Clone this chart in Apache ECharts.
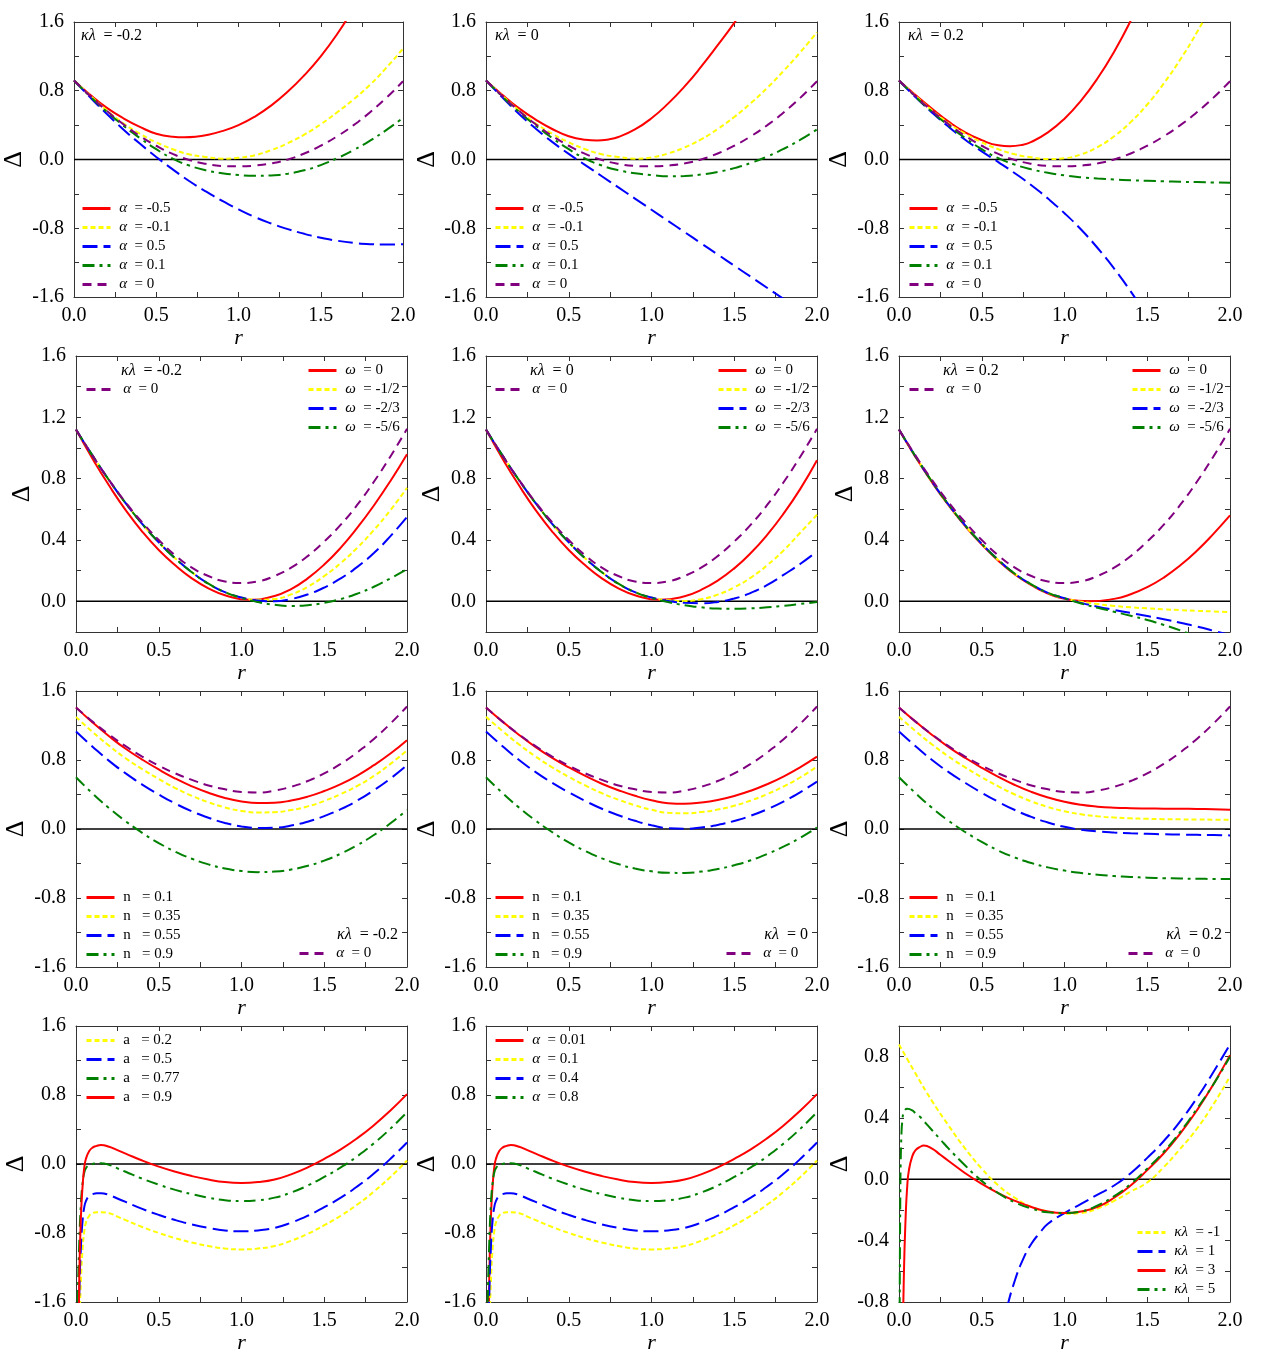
<!DOCTYPE html>
<html><head><meta charset="utf-8">
<script src="https://cdn.jsdelivr.net/npm/echarts@6/dist/echarts.min.js"></script>
<style>html,body{margin:0;padding:0;background:#fff}#c{width:1263px;height:1362px}</style>
</head><body><div id="c"></div>
<script>
// ---------- x grids ----------
const r21 = [0,0.1,0.2,0.3,0.4,0.5,0.6,0.7,0.8,0.9,1.0,1.1,1.2,1.3,1.4,1.5,1.6,1.7,1.8,1.9,2.0];
const rMin067 = [0,0.1,0.2,0.3,0.4,0.5,0.6,0.67,0.74,0.8,0.9,1.0,1.1,1.2,1.3,1.4,1.5,1.6,1.7,1.8,1.9,2.0];
const rMin105 = [0,0.1,0.2,0.3,0.4,0.5,0.6,0.7,0.8,0.9,1.05,1.2,1.3,1.4,1.5,1.6,1.7,1.8,1.9,2.0];
const rMin115 = [0,0.1,0.2,0.3,0.4,0.5,0.6,0.7,0.8,0.9,1.0,1.15,1.3,1.4,1.5,1.6,1.7,1.8,1.9,2.0];
const rFine = [0.01,0.02,0.03,0.04,0.05,0.06,0.08,0.1,0.125,0.15,0.2,0.25,0.3,0.4,0.5,0.6,0.7,0.8,0.9,1.0,1.1,1.2,1.3,1.4,1.5,1.6,1.7,1.8,1.9,2.0];
const rBlueKL1 = [0.6,0.65,0.7,0.75,0.8,0.85,0.9,1.0,1.1,1.2,1.3,1.4,1.5,1.6,1.7,1.8,1.9,2.0];
const rGreenKL5 = [0.002,0.005,0.008,0.01,0.015,0.02,0.03,0.05,0.08,0.1,0.125,0.15,0.2,0.25,0.3,0.4,0.5,0.6,0.7,0.8,0.9,1.0,1.1,1.2,1.3,1.4,1.5,1.6,1.7,1.8,1.9,2.0];

// ---------- legend / label texts ----------
const klPanel = ['-0.2','0','0.2'];
const alphaVals = ['-0.5','-0.1','0.5','0.1','0'];
const omegaVals = ['0','-1/2','-2/3','-5/6'];
const nVals = ['0.1','0.35','0.55','0.9'];
const aVals = ['0.2','0.5','0.77','0.9'];
const alphaVals2 = ['0.01','0.1','0.4','0.8'];
const klVals = ['-1','1','3','5'];

// ---------- row 1 : alpha family ----------
const p1_red    = [0.92,0.75,0.6,0.48,0.38,0.30,0.266,0.26,0.266,0.282,0.33,0.40,0.5,0.63,0.79,0.98,1.2,1.46,1.76];   // on rMin067
const p1_yellow = [0.92,0.74,0.57,0.42,0.30,0.20,0.12,0.06,0.03,0.01,0.02,0.05,0.11,0.19,0.29,0.41,0.55,0.70,0.87,1.07,1.29];
const p1_blue   = [0.92,0.72,0.53,0.35,0.185,0.03,-0.115,-0.25,-0.37,-0.48,-0.58,-0.67,-0.745,-0.81,-0.865,-0.91,-0.945,-0.97,-0.985,-0.99,-0.985];
const p1_green  = [0.92,0.73,0.555,0.395,0.25,0.12,0.01,-0.07,-0.125,-0.16,-0.18,-0.19,-0.185,-0.165,-0.125,-0.065,0.015,0.11,0.22,0.345,0.485];
const p1_purple = [0.92,0.735,0.565,0.41,0.275,0.16,0.065,-0.005,-0.05,-0.075,-0.08,-0.07,-0.045,0.0,0.07,0.16,0.27,0.40,0.55,0.72,0.91];

const p2_red    = [0.92,0.75,0.595,0.465,0.355,0.27,0.23,0.222,0.234,0.262,0.35,0.48,0.65,0.85,1.08,1.33,1.59,1.88];  // on rMin067
const p2_yellow = [0.92,0.74,0.57,0.42,0.30,0.20,0.12,0.06,0.03,0.01,0.025,0.07,0.14,0.235,0.355,0.495,0.655,0.835,1.035,1.25,1.48];
const p2_blue   = [0.92,0.72,0.53,0.36,0.205,0.065,-0.065,-0.195,-0.325,-0.455,-0.585,-0.715,-0.845,-0.975,-1.105,-1.235,-1.365,-1.495,-1.625];
const p2_green  = [0.92,0.73,0.555,0.395,0.25,0.12,0.01,-0.07,-0.125,-0.16,-0.18,-0.196,-0.192,-0.175,-0.145,-0.1,-0.04,0.035,0.125,0.23,0.35];
const p2_purple = [0.92,0.735,0.565,0.41,0.275,0.16,0.065,-0.005,-0.05,-0.075,-0.08,-0.07,-0.045,0.0,0.07,0.16,0.27,0.40,0.55,0.72,0.91];

const p3_red    = [0.92,0.75,0.59,0.44,0.315,0.225,0.165,0.155,0.169,0.205,0.315,0.475,0.685,0.945,1.255,1.615];      // on rMin067
const p3_yellow = [0.92,0.74,0.57,0.42,0.30,0.20,0.12,0.06,0.025,0.005,0.015,0.06,0.145,0.27,0.435,0.64,0.885,1.165,1.48,1.83];
const p3_blue   = [0.92,0.725,0.545,0.38,0.23,0.095,-0.03,-0.16,-0.3,-0.455,-0.625,-0.815,-1.03,-1.27,-1.535,-1.83];
const p3_green  = [0.92,0.73,0.555,0.395,0.25,0.12,0.015,-0.06,-0.115,-0.155,-0.185,-0.207,-0.222,-0.233,-0.241,-0.248,-0.254,-0.259,-0.263,-0.267,-0.27];
const p3_purple = [0.92,0.735,0.565,0.41,0.275,0.16,0.065,-0.005,-0.05,-0.075,-0.08,-0.07,-0.045,0.0,0.07,0.16,0.27,0.40,0.55,0.72,0.91];

// ---------- row 2 : omega family ----------
const p4_purple = [1.12,0.95,0.79,0.645,0.515,0.4,0.3,0.22,0.165,0.13,0.12,0.13,0.165,0.22,0.295,0.39,0.5,0.63,0.78,0.945,1.125];
const p4_red    = [1.12,0.93,0.755,0.595,0.455,0.335,0.235,0.15,0.085,0.04,0.01,0.035,0.08,0.15,0.24,0.35,0.48,0.625,0.785,0.96];   // on rMin105
const p4_yellow = [1.12,0.95,0.79,0.64,0.505,0.385,0.28,0.19,0.115,0.06,0.025,0.01,0.015,0.045,0.095,0.165,0.25,0.35,0.465,0.595,0.74];
const p4_blue   = [1.12,0.95,0.79,0.64,0.505,0.385,0.28,0.19,0.115,0.06,0.025,0.005,0.0,0.015,0.045,0.09,0.15,0.225,0.315,0.425,0.55];
const p4_green  = [1.12,0.95,0.79,0.64,0.505,0.385,0.28,0.19,0.115,0.06,0.022,-0.005,-0.022,-0.03,-0.025,-0.01,0.015,0.05,0.095,0.15,0.21];

const p5_purple = [1.12,0.95,0.79,0.645,0.515,0.4,0.3,0.22,0.165,0.13,0.12,0.13,0.165,0.22,0.295,0.39,0.5,0.63,0.78,0.945,1.125];
const p5_red    = [1.12,0.93,0.755,0.595,0.455,0.335,0.235,0.15,0.085,0.04,0.01,0.033,0.075,0.135,0.215,0.315,0.435,0.575,0.735,0.92];  // on rMin105
const p5_yellow = [1.12,0.95,0.79,0.64,0.505,0.385,0.28,0.19,0.115,0.06,0.025,0.007,0.002,0.014,0.044,0.091,0.155,0.236,0.334,0.449,0.565];
const p5_blue   = [1.12,0.95,0.79,0.64,0.505,0.385,0.28,0.19,0.115,0.06,0.025,0.003,-0.01,-0.013,-0.004,0.018,0.055,0.107,0.174,0.245,0.325];
const p5_green  = [1.12,0.95,0.79,0.64,0.505,0.385,0.28,0.19,0.115,0.06,0.022,-0.005,-0.025,-0.039,-0.047,-0.049,-0.046,-0.039,-0.029,-0.017,-0.004];

const p6_purple = [1.12,0.95,0.79,0.645,0.515,0.4,0.3,0.22,0.165,0.13,0.12,0.13,0.165,0.22,0.295,0.39,0.5,0.63,0.78,0.945,1.125];
const p6_red    = [1.12,0.94,0.775,0.625,0.49,0.37,0.265,0.175,0.105,0.05,0.016,0.0,0.016,0.046,0.092,0.155,0.235,0.33,0.44,0.56];   // on rMin115
const p6_yellow = [1.12,0.945,0.78,0.63,0.495,0.375,0.27,0.18,0.11,0.055,0.02,-0.002,-0.018,-0.03,-0.039,-0.046,-0.052,-0.057,-0.062,-0.066,-0.07];
const p6_blue   = [1.12,0.945,0.78,0.63,0.495,0.375,0.27,0.18,0.11,0.055,0.02,-0.01,-0.035,-0.056,-0.076,-0.096,-0.117,-0.14,-0.165,-0.192,-0.22];
const p6_green  = [1.12,0.945,0.78,0.63,0.495,0.375,0.27,0.18,0.11,0.055,0.02,-0.014,-0.042,-0.068,-0.094,-0.122,-0.154,-0.19,-0.232,-0.28,-0.334];

// ---------- row 3 : n family ----------
const p7_purple = [1.41,1.245,1.095,0.96,0.84,0.735,0.645,0.57,0.505,0.46,0.43,0.423,0.445,0.49,0.556,0.645,0.756,0.889,1.044,1.222,1.42];
const p7_red    = [1.41,1.235,1.075,0.93,0.805,0.69,0.585,0.495,0.42,0.36,0.32,0.302,0.305,0.33,0.375,0.44,0.52,0.62,0.74,0.875,1.03];
const p7_yellow = [1.3,1.125,0.965,0.82,0.695,0.58,0.475,0.385,0.31,0.25,0.21,0.192,0.195,0.22,0.262,0.325,0.405,0.5,0.615,0.755,0.91];
const p7_blue   = [1.13,0.955,0.79,0.645,0.515,0.4,0.295,0.205,0.13,0.07,0.03,0.012,0.015,0.04,0.085,0.15,0.23,0.33,0.45,0.585,0.74];
const p7_green  = [0.6,0.412,0.242,0.09,-0.045,-0.163,-0.263,-0.345,-0.41,-0.458,-0.487,-0.5,-0.494,-0.47,-0.427,-0.366,-0.286,-0.187,-0.07,0.066,0.22];

const p8_purple = [1.41,1.245,1.095,0.96,0.84,0.735,0.645,0.57,0.505,0.46,0.43,0.423,0.445,0.49,0.556,0.645,0.756,0.889,1.044,1.222,1.42];
const p8_red    = [1.41,1.245,1.09,0.95,0.825,0.715,0.615,0.525,0.45,0.385,0.333,0.298,0.292,0.307,0.337,0.383,0.444,0.52,0.611,0.718,0.839];
const p8_yellow = [1.3,1.135,0.98,0.84,0.715,0.605,0.505,0.415,0.34,0.275,0.223,0.188,0.182,0.196,0.225,0.27,0.33,0.405,0.495,0.6,0.725];
const p8_blue   = [1.13,0.96,0.8,0.66,0.535,0.425,0.325,0.235,0.16,0.095,0.043,0.008,0.002,0.017,0.047,0.093,0.154,0.23,0.321,0.428,0.549];
const p8_green  = [0.6,0.416,0.248,0.097,-0.037,-0.155,-0.256,-0.34,-0.407,-0.458,-0.491,-0.507,-0.509,-0.494,-0.464,-0.42,-0.362,-0.289,-0.202,-0.1,0.017];

const p9_purple = [1.41,1.245,1.095,0.96,0.84,0.735,0.645,0.57,0.505,0.46,0.43,0.423,0.445,0.49,0.556,0.645,0.756,0.889,1.044,1.222,1.42];
const p9_red    = [1.41,1.245,1.09,0.95,0.825,0.71,0.605,0.51,0.43,0.365,0.315,0.28,0.259,0.247,0.241,0.238,0.236,0.235,0.233,0.229,0.223];
const p9_yellow = [1.3,1.135,0.98,0.84,0.715,0.6,0.495,0.4,0.32,0.255,0.205,0.17,0.147,0.133,0.124,0.118,0.114,0.112,0.11,0.108,0.106];
const p9_blue   = [1.13,0.96,0.8,0.66,0.535,0.42,0.315,0.22,0.14,0.075,0.025,-0.008,-0.028,-0.041,-0.05,-0.056,-0.061,-0.065,-0.068,-0.071,-0.074];
const p9_green  = [0.6,0.415,0.245,0.095,-0.035,-0.15,-0.25,-0.33,-0.395,-0.445,-0.482,-0.51,-0.53,-0.545,-0.556,-0.564,-0.57,-0.574,-0.577,-0.579,-0.58];

// ---------- row 4 ----------
const p10_red    = [-3.0,-1.3,-0.6,-0.25,-0.04,0.06,0.15,0.19,0.21,0.22,0.2,0.16,0.12,0.04,-0.03,-0.09,-0.14,-0.18,-0.21,-0.22,-0.21,-0.18,-0.12,-0.04,0.06,0.17,0.3,0.45,0.62,0.81];
const p10_yellow = [-3.5,-2.0,-1.35,-0.98,-0.78,-0.68,-0.6,-0.57,-0.56,-0.56,-0.57,-0.61,-0.65,-0.73,-0.8,-0.86,-0.91,-0.95,-0.98,-0.99,-0.98,-0.95,-0.89,-0.81,-0.71,-0.6,-0.47,-0.32,-0.15,0.04];
const p10_blue   = [-2.5,-1.5,-0.95,-0.65,-0.5,-0.43,-0.37,-0.35,-0.34,-0.34,-0.36,-0.4,-0.44,-0.52,-0.59,-0.65,-0.7,-0.74,-0.77,-0.78,-0.77,-0.74,-0.68,-0.6,-0.5,-0.39,-0.26,-0.11,0.06,0.25];
const p10_green  = [-1.6,-0.9,-0.45,-0.22,-0.1,-0.05,-0.01,0.0,0.01,0.01,-0.01,-0.05,-0.09,-0.17,-0.24,-0.3,-0.35,-0.39,-0.42,-0.43,-0.42,-0.39,-0.33,-0.25,-0.15,-0.04,0.09,0.24,0.41,0.6];

const p11_red    = [-3.0,-1.3,-0.6,-0.25,-0.04,0.06,0.15,0.19,0.21,0.22,0.2,0.16,0.12,0.04,-0.03,-0.09,-0.14,-0.18,-0.21,-0.22,-0.21,-0.18,-0.12,-0.04,0.06,0.17,0.3,0.45,0.62,0.81];
const p11_yellow = [-3.5,-2.0,-1.35,-0.98,-0.78,-0.68,-0.6,-0.57,-0.56,-0.56,-0.57,-0.61,-0.65,-0.73,-0.8,-0.86,-0.91,-0.95,-0.98,-0.99,-0.98,-0.95,-0.89,-0.81,-0.71,-0.6,-0.47,-0.32,-0.15,0.04];
const p11_blue   = [-2.5,-1.5,-0.95,-0.65,-0.5,-0.43,-0.37,-0.35,-0.34,-0.34,-0.36,-0.4,-0.44,-0.52,-0.59,-0.65,-0.7,-0.74,-0.77,-0.78,-0.77,-0.74,-0.68,-0.6,-0.5,-0.39,-0.26,-0.11,0.06,0.25];
const p11_green  = [-1.6,-0.9,-0.45,-0.22,-0.1,-0.05,-0.01,0.0,0.01,0.01,-0.01,-0.05,-0.09,-0.17,-0.24,-0.3,-0.35,-0.39,-0.42,-0.43,-0.42,-0.39,-0.33,-0.25,-0.15,-0.04,0.09,0.24,0.41,0.6];

const p12_yellow = [0.88,0.69,0.51,0.35,0.2,0.07,-0.04,-0.12,-0.18,-0.21,-0.225,-0.22,-0.19,-0.14,-0.08,-0.02,0.08,0.2,0.33,0.49,0.67];
const p12_blue   = [-1.1,-0.85,-0.66,-0.52,-0.42,-0.35,-0.29,-0.22,-0.16,-0.1,-0.04,0.04,0.14,0.25,0.38,0.53,0.7,0.88];
const p12_red    = [-3.0,-1.3,-0.6,-0.25,-0.04,0.06,0.15,0.19,0.21,0.22,0.2,0.16,0.12,0.04,-0.03,-0.09,-0.14,-0.18,-0.21,-0.22,-0.21,-0.18,-0.12,-0.04,0.06,0.17,0.3,0.45,0.62,0.81];
const p12_green  = [-1.5,-0.6,-0.1,0.1,0.3,0.38,0.44,0.46,0.45,0.43,0.41,0.38,0.32,0.26,0.2,0.09,-0.01,-0.09,-0.15,-0.19,-0.215,-0.22,-0.21,-0.17,-0.11,-0.03,0.07,0.18,0.31,0.46,0.62,0.8];

const zeroX = [0, 2];
const zeroY = [0, 0];

// ---------- styles ----------
const FONT = '"Liberation Serif","Times New Roman",serif';
const STY = {
  red:    {color:'#ff0000', type:'solid'},
  yellow: {color:'#ffff00', type:[5,3]},
  blue:   {color:'#0000ff', type:[15,6]},
  green:  {color:'#008000', type:[12,5,3,5]},
  purple: {color:'#800080', type:[9,6]}
};
const SYM = {
  'α': v => '{g|α}  = ' + v,
  'ω': v => '{g|ω}  = ' + v,
  'n': v => 'n   = ' + v,
  'a': v => 'a   = ' + v,
  'κλ': v => '{g|κλ}  = ' + v
};
const S = (c, x, y, s, v) => ({c, x, y, s, v});

const Y1 = {min:-1.6, max:1.6, step:0.4, lab:0.8};
const Y2 = {min:-0.2, max:1.6, step:0.2, lab:0.4};
const Y4 = {min:-0.8, max:1.0, step:0.2, lab:0.4};

const panels = [
  {l:72, t:22, h:275, Y:Y1, dd:60, kl:{v:klPanel[0], x:81, y:36, a:'left'},
   ser:[S('red',rMin067,p1_red,'α',alphaVals[0]),S('yellow',r21,p1_yellow,'α',alphaVals[1]),S('blue',r21,p1_blue,'α',alphaVals[2]),S('green',r21,p1_green,'α',alphaVals[3]),S('purple',r21,p1_purple,'α',alphaVals[4])],
   leg:[{left:81, top:201, idx:[0,1,2,3,4]}]},
  {l:486, t:22, h:275, Y:Y1, dd:59, kl:{v:klPanel[1], x:495, y:36, a:'left'},
   ser:[S('red',rMin067,p2_red,'α',alphaVals[0]),S('yellow',r21,p2_yellow,'α',alphaVals[1]),S('blue',r21,p2_blue,'α',alphaVals[2]),S('green',r21,p2_green,'α',alphaVals[3]),S('purple',r21,p2_purple,'α',alphaVals[4])],
   leg:[{left:494, top:201, idx:[0,1,2,3,4]}]},
  {l:899, t:22, h:275, Y:Y1, dd:60, kl:{v:klPanel[2], x:908, y:36, a:'left'},
   ser:[S('red',rMin067,p3_red,'α',alphaVals[0]),S('yellow',r21,p3_yellow,'α',alphaVals[1]),S('blue',r21,p3_blue,'α',alphaVals[2]),S('green',r21,p3_green,'α',alphaVals[3]),S('purple',r21,p3_purple,'α',alphaVals[4])],
   leg:[{left:908, top:201, idx:[0,1,2,3,4]}]},

  {l:76, t:356, h:276, Y:Y2, dd:54, kl:{v:klPanel[0], x:121, y:371, a:'left'},
   ser:[S('red',rMin105,p4_red,'ω',omegaVals[0]),S('yellow',r21,p4_yellow,'ω',omegaVals[1]),S('blue',r21,p4_blue,'ω',omegaVals[2]),S('green',r21,p4_green,'ω',omegaVals[3]),S('purple',r21,p4_purple,'α','0')],
   leg:[{left:85, top:382, idx:[4]},{left:307, top:363, idx:[0,1,2,3]}]},
  {l:486, t:356, h:276, Y:Y2, dd:54, kl:{v:klPanel[1], x:530, y:371, a:'left'},
   ser:[S('red',rMin105,p5_red,'ω',omegaVals[0]),S('yellow',r21,p5_yellow,'ω',omegaVals[1]),S('blue',r21,p5_blue,'ω',omegaVals[2]),S('green',r21,p5_green,'ω',omegaVals[3]),S('purple',r21,p5_purple,'α','0')],
   leg:[{left:494, top:382, idx:[4]},{left:717, top:363, idx:[0,1,2,3]}]},
  {l:899, t:356, h:276, Y:Y2, dd:54, kl:{v:klPanel[2], x:943, y:371, a:'left'},
   ser:[S('red',rMin115,p6_red,'ω',omegaVals[0]),S('yellow',r21,p6_yellow,'ω',omegaVals[1]),S('blue',r21,p6_blue,'ω',omegaVals[2]),S('green',r21,p6_green,'ω',omegaVals[3]),S('purple',r21,p6_purple,'α','0')],
   leg:[{left:908, top:382, idx:[4]},{left:1131, top:363, idx:[0,1,2,3]}]},

  {l:76, t:691, h:276, Y:Y1, dd:60, kl:{v:klPanel[0], x:398, y:935, a:'right'},
   ser:[S('red',r21,p7_red,'n',nVals[0]),S('yellow',r21,p7_yellow,'n',nVals[1]),S('blue',r21,p7_blue,'n',nVals[2]),S('green',r21,p7_green,'n',nVals[3]),S('purple',r21,p7_purple,'α','0')],
   leg:[{left:85, top:890, idx:[0,1,2,3]},{left:298, top:946, idx:[4]}]},
  {l:486, t:691, h:276, Y:Y1, dd:59, kl:{v:klPanel[1], x:808, y:935, a:'right'},
   ser:[S('red',r21,p8_red,'n',nVals[0]),S('yellow',r21,p8_yellow,'n',nVals[1]),S('blue',r21,p8_blue,'n',nVals[2]),S('green',r21,p8_green,'n',nVals[3]),S('purple',r21,p8_purple,'α','0')],
   leg:[{left:494, top:890, idx:[0,1,2,3]},{left:725, top:946, idx:[4]}]},
  {l:899, t:691, h:276, Y:Y1, dd:59, kl:{v:klPanel[2], x:1222, y:935, a:'right'},
   ser:[S('red',r21,p9_red,'n',nVals[0]),S('yellow',r21,p9_yellow,'n',nVals[1]),S('blue',r21,p9_blue,'n',nVals[2]),S('green',r21,p9_green,'n',nVals[3]),S('purple',r21,p9_purple,'α','0')],
   leg:[{left:908, top:890, idx:[0,1,2,3]},{left:1127, top:946, idx:[4]}]},

  {l:76, t:1026, h:276, Y:Y1, dd:60, kl:null,
   ser:[S('yellow',rFine,p10_yellow,'a',aVals[0]),S('blue',rFine,p10_blue,'a',aVals[1]),S('green',rFine,p10_green,'a',aVals[2]),S('red',rFine,p10_red,'a',aVals[3])],
   leg:[{left:85, top:1033, idx:[0,1,2,3]}]},
  {l:486, t:1026, h:276, Y:Y1, dd:59, kl:null,
   ser:[S('red',rFine,p11_red,'α',alphaVals2[0]),S('yellow',rFine,p11_yellow,'α',alphaVals2[1]),S('blue',rFine,p11_blue,'α',alphaVals2[2]),S('green',rFine,p11_green,'α',alphaVals2[3])],
   leg:[{left:494, top:1033, idx:[0,1,2,3]}]},
  {l:899, t:1026, h:276, Y:Y4, dd:59, kl:null,
   ser:[S('yellow',r21,p12_yellow,'κλ',klVals[0]),S('blue',rBlueKL1,p12_blue,'κλ',klVals[1]),S('red',rFine,p12_red,'κλ',klVals[2]),S('green',rGreenKL5,p12_green,'κλ',klVals[3])],
   leg:[{left:1136, top:1225, idx:[0,1,2,3]}]}
];

const zip = (xs, ys) => ys.map((y, i) => [xs[i], y]);
const isMul = (v, m) => Math.abs(v / m - Math.round(v / m)) < 1e-6;
const fmt = (v, m) => isMul(v, m) ? (Math.abs(v) < 1e-9 ? '0.0' : v.toFixed(1)) : '';
const AX = '#333';

const grid = [], xAxis = [], yAxis = [], series = [], legend = [], graphic = [];
const labelMap = {};
const richG = {g:{fontStyle:'italic', fontFamily:FONT, fontSize:15, color:'#000'}};

panels.forEach((p, gi) => {
  grid.push({left:p.l, top:p.t, width:331, height:p.h, containLabel:false});
  const common = {gridIndex:gi, type:'value', splitLine:{show:false},
    axisLine:{show:true, onZero:false, lineStyle:{color:AX, width:1}},
    axisTick:{show:true, inside:true, length:5, lineStyle:{color:AX}}};
  xAxis.push(Object.assign({}, common, {position:'bottom', min:0, max:2, interval:0.25,
    axisLabel:{formatter:v => fmt(v, 0.5), margin:9, fontSize:20, fontFamily:FONT, color:'#000'},
    name:'r', nameLocation:'middle', nameGap:29,
    nameTextStyle:{fontStyle:'italic', fontSize:22, fontFamily:FONT, color:'#000'}}));
  xAxis.push(Object.assign({}, common, {position:'top', min:0, max:2, interval:0.25, axisLabel:{show:false}}));
  yAxis.push(Object.assign({}, common, {position:'left', min:p.Y.min, max:p.Y.max, interval:p.Y.step,
    axisLabel:{formatter:v => fmt(v, p.Y.lab), margin:10, fontSize:20, fontFamily:FONT, color:'#000'},
    name:'Δ', nameLocation:'middle', nameRotate:90, nameGap:p.dd - 13,
    nameTextStyle:{fontSize:26, fontFamily:FONT, color:'#000'}}));
  yAxis.push(Object.assign({}, common, {position:'right', min:p.Y.min, max:p.Y.max, interval:p.Y.step, axisLabel:{show:false}}));

  series.push({type:'line', name:'zero' + gi, xAxisIndex:2*gi, yAxisIndex:2*gi, data:zip(zeroX, zeroY),
    symbol:'none', silent:true, lineStyle:{color:'#000', width:1.5}, z:1});
  const names = [];
  p.ser.forEach((s, k) => {
    const nm = 'p' + gi + '_' + k;
    names.push(nm);
    labelMap[nm] = ' ' + SYM[s.s](s.v);
    series.push({type:'line', name:nm, xAxisIndex:2*gi, yAxisIndex:2*gi, data:zip(s.x, s.y),
      symbol:'none', smooth:0.5, clip:true,
      lineStyle:{color:STY[s.c].color, type:STY[s.c].type, width:2},
      itemStyle:{color:STY[s.c].color}, z:2});
  });
  p.leg.forEach(L => {
    legend.push({orient:'vertical', left:L.left, top:L.top, padding:0, itemWidth:28, itemHeight:14, itemGap:4,
      selectedMode:false, data:L.idx.map(i => names[i]), formatter:n => labelMap[n],
      itemStyle:{opacity:0, borderWidth:0},
      lineStyle:{width:3, opacity:1}, textStyle:{fontFamily:FONT, fontSize:15, color:'#000', rich:richG}});
  });
  if (p.kl) {
    graphic.push({type:'text', x:p.kl.x, y:p.kl.y, z:10,
      style:{text:'{g|κλ}  = ' + p.kl.v, rich:{g:{fontStyle:'italic', fontFamily:FONT, fontSize:16, fill:'#000'}},
        fontFamily:FONT, fontSize:16, fill:'#000', align:p.kl.a, verticalAlign:'middle'}});
  }
});

const chart = echarts.init(document.getElementById('c'), null, {renderer:'canvas'});
chart.setOption({backgroundColor:'#fff', animation:false, grid, xAxis, yAxis, series, legend, graphic});
</script></body></html>
